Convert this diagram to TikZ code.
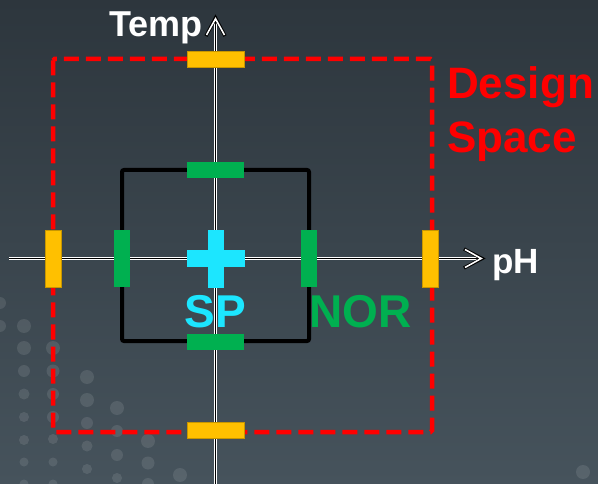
\documentclass[tikz,border=0pt]{standalone}
\usepackage{fontspec}
\setmainfont{Liberation Sans}
\begin{document}
\definecolor{bgtop}{RGB}{45,54,61}
\definecolor{bgbot}{RGB}{70,83,92}
\definecolor{barY}{RGB}{255,192,0}
\definecolor{barYd}{RGB}{200,150,0}
\definecolor{barG}{RGB}{0,176,80}
\definecolor{barC}{RGB}{28,230,255}
\definecolor{dsred}{RGB}{255,0,0}
\begin{tikzpicture}[x=1pt,y=-1pt,
  ybarh/.style={rectangle,inner sep=0,fill=barY,draw=barYd,line width=0.5pt,minimum width=57pt,minimum height=16pt},
  ybarv/.style={ybarh,minimum width=16pt,minimum height=57pt},
  gbarh/.style={rectangle,inner sep=0,fill=barG,minimum width=57pt,minimum height=16pt},
  gbarv/.style={gbarh,minimum width=16pt,minimum height=57pt},
  cbarh/.style={rectangle,inner sep=0,fill=barC,minimum width=58pt,minimum height=17pt},
  cbarv/.style={cbarh,minimum width=16pt,minimum height=58pt},
  axisline/.style={draw=white,line width=1.1pt,double=black,double distance=1.4pt},
  chevback/.style={draw=black,line width=3.4pt,line join=miter,line cap=butt},
  chevfront/.style={draw=white,line width=1.6pt,line join=miter,line cap=butt},
  biglabel/.style={inner sep=0,font=\fontsize{46}{50}\selectfont\bfseries},
  dslabel/.style={inner sep=0,text=dsred,font=\fontsize{44}{50}\selectfont\bfseries},
  axlabel/.style={inner sep=0,text=white,font=\fontsize{36}{40}\selectfont\bfseries},
  dot/.style={fill=white,fill opacity=0.1}
]
\useasboundingbox (0,0) rectangle (598,484);
\shade[top color=bgtop,bottom color=bgbot] (0,0) rectangle (598,484);
% decorative dots
\foreach \x/\y/\r in {0/303/6,0/326/6,24/326/7,24/348/7,24/371/6,24/394/5.5,24/417/5,24/440/5,24/462/4.5,24/484/4.5,
  53/348/7,53/371/6.5,53/394/6,53/417/6,53/439/5,53/462/4.5,53/484/4.5,
  87/377/7,87/400/7,87/423/6,87/446/5.5,87/469/5,
  117/408/7,117/431/6,117/455/6,117/478/5,
  148/441/7,148/463/6.5,148/484/6,
  180/475/7,583/472/7}
  \fill[dot] (\x,\y) circle (\r);
% design space
\draw[dsred,line width=4.5pt,dash pattern=on 15pt off 7pt,rounded corners=1.5pt] (53,59) rectangle (432,432);
% normal operating range
\draw[black,line width=4pt,rounded corners=2pt] (122,170) rectangle (309,341);
% labels
\node[biglabel,text=barC,anchor=base] (sp) at (215.5,327) {SP};
\node[biglabel,text=barG,anchor=base west] (nor) at (309,327) {NOR};
\node[dslabel,anchor=base west] (design) at (447,99) {Design};
\node[dslabel,anchor=base west] (space) at (447,153) {Space};
\node[axlabel,anchor=base east] (temp) at (203,37) {Temp};
\node[axlabel,font=\fontsize{35}{40}\selectfont\bfseries,anchor=base west] (ph) at (492,273) {pH};
% axes
\coordinate (xs) at (9,258.5);
\coordinate (xt) at (482,258.5);
\coordinate (ys) at (215.5,484);
\coordinate (yt) at (215.5,18);
\draw[axisline] (xs) -- (xt);
\draw[axisline] (ys) -- (yt);
\draw[chevback] ([shift={(-18,-9.5)}]xt) -- (xt) -- ([shift={(-18,9.5)}]xt);
\draw[chevfront] ([shift={(-17,-9)}]xt) -- ([shift={(-0.8,0)}]xt) -- ([shift={(-17,9)}]xt);
\draw[chevback] ([shift={(-9.5,18)}]yt) -- (yt) -- ([shift={(9.5,18)}]yt);
\draw[chevfront] ([shift={(-9,17)}]yt) -- ([shift={(0,0.8)}]yt) -- ([shift={(9,17)}]yt);
% bars
\node[ybarh] (yT) at (215.5,59) {};
\node[ybarh] (yB) at (215.5,430) {};
\node[ybarv] (yL) at (53,258.5) {};
\node[ybarv] (yR) at (430,258.5) {};
\node[gbarh] (gT) at (215.5,170) {};
\node[gbarh] (gB) at (215.5,342) {};
\node[gbarv] (gL) at (122,258.5) {};
\node[gbarv] (gR) at (309,258.5) {};
% set point cross
\node[cbarh] (cH) at (215.5,259) {};
\node[cbarv] (cV) at (215.5,259) {};
\end{tikzpicture}
\end{document}
